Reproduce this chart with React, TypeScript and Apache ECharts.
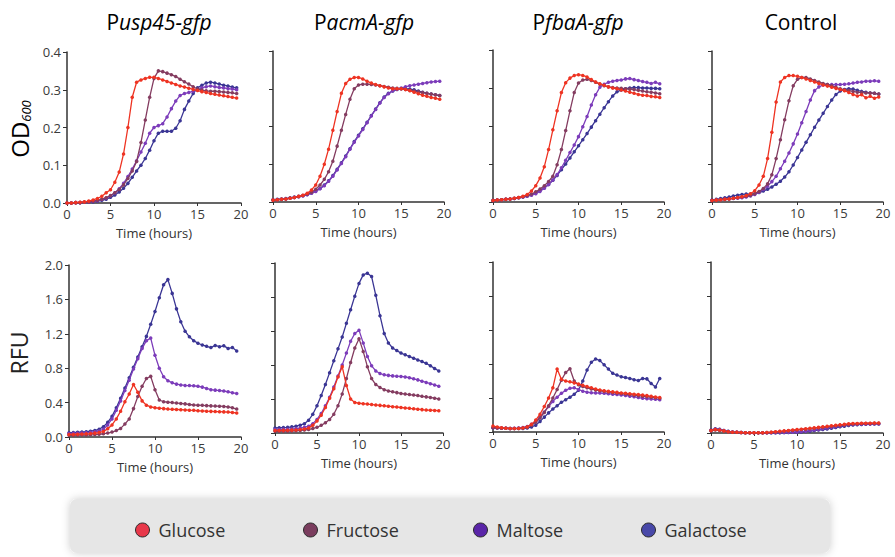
import React, { useEffect, useRef } from "react";
import * as echarts from "echarts";

const TIME = [0, 0.5, 1, 1.5, 2, 2.5, 3, 3.5, 4, 4.5, 5, 5.5, 6, 6.5, 7, 7.5, 8, 8.5, 9, 9.5, 10, 10.5, 11, 11.5, 12, 12.5, 13, 13.5, 14, 14.5, 15, 15.5, 16, 16.5, 17, 17.5, 18, 18.5, 19, 19.5];

const SUGARS = ["Glucose", "Fructose", "Maltose", "Galactose"];
const SUGAR_COLORS = ["#ee3322", "#843c60", "#7c3cba", "#3a3594"];
const LEGEND_COLORS = ["#e8384a", "#7a3d5e", "#5a25a8", "#4848a8"];
const PANEL_TITLES = [["P", "usp45-gfp"], ["P", "acmA-gfp"], ["P", "fbaA-gfp"], ["Control", ""]];
const OD_TICKS = [0, 0.1, 0.2, 0.3, 0.4];
const RFU_TICKS = [0, 0.4, 0.8, 1.2, 1.6, 2.0];
const X_TICKS = [0, 5, 10, 15, 20];

// ---- OD600, Pusp45-gfp
const odUsp45Glucose = [0.000,0.000,0.001,0.002,0.003,0.005,0.008,0.012,0.018,0.027, 0.035,0.055,0.082,0.130,0.200,0.280,0.320,0.326,0.330,0.333, 0.333,0.330,0.326,0.322,0.318,0.314,0.310,0.307,0.304,0.301, 0.298,0.295,0.293,0.290,0.288,0.286,0.284,0.282,0.280,0.278];
const odUsp45Fructose = [0.000,0.000,0.001,0.001,0.002,0.003,0.005,0.007,0.010,0.014, 0.020,0.027,0.036,0.048,0.065,0.085,0.110,0.160,0.220,0.280, 0.330,0.350,0.348,0.344,0.340,0.335,0.328,0.321,0.315,0.308, 0.302,0.299,0.297,0.296,0.296,0.295,0.294,0.293,0.292,0.290];
const odUsp45Maltose = [0.000,0.000,0.001,0.001,0.002,0.003,0.004,0.006,0.009,0.013, 0.019,0.027,0.038,0.052,0.070,0.090,0.112,0.135,0.158,0.185, 0.200,0.205,0.210,0.228,0.250,0.270,0.285,0.290,0.293,0.296, 0.300,0.305,0.308,0.310,0.308,0.306,0.305,0.303,0.302,0.300];
const odUsp45Galactose = [0.000,0.000,0.001,0.001,0.002,0.002,0.003,0.005,0.007,0.010, 0.015,0.021,0.029,0.039,0.052,0.068,0.085,0.100,0.118,0.140, 0.165,0.185,0.190,0.190,0.190,0.198,0.218,0.248,0.270,0.290, 0.305,0.312,0.318,0.320,0.318,0.315,0.312,0.310,0.307,0.305];

// ---- OD600, PacmA-gfp
const odAcmAGlucose = [0.005,0.006,0.007,0.008,0.010,0.012,0.015,0.018,0.023,0.032, 0.045,0.068,0.100,0.140,0.190,0.240,0.288,0.314,0.325,0.330, 0.330,0.326,0.320,0.315,0.311,0.308,0.305,0.302,0.300,0.300, 0.300,0.298,0.295,0.291,0.287,0.283,0.280,0.277,0.275,0.272];
const odAcmAFructose = [0.005,0.006,0.007,0.008,0.010,0.012,0.014,0.017,0.021,0.026, 0.034,0.045,0.060,0.080,0.108,0.148,0.190,0.232,0.272,0.300, 0.310,0.312,0.312,0.311,0.310,0.308,0.306,0.304,0.302,0.301, 0.300,0.298,0.296,0.294,0.292,0.290,0.288,0.286,0.284,0.282];
const odAcmAMaltose = [0.005,0.006,0.007,0.008,0.010,0.012,0.014,0.016,0.019,0.023, 0.028,0.035,0.043,0.055,0.068,0.085,0.102,0.120,0.140,0.158, 0.175,0.192,0.210,0.228,0.245,0.262,0.277,0.287,0.295,0.299, 0.302,0.305,0.308,0.310,0.312,0.314,0.316,0.318,0.319,0.320];
const odAcmAGalactose = [0.006,0.007,0.008,0.009,0.011,0.013,0.015,0.017,0.020,0.024, 0.029,0.036,0.045,0.056,0.070,0.087,0.104,0.122,0.141,0.160, 0.177,0.194,0.211,0.229,0.246,0.263,0.278,0.288,0.294,0.298, 0.300,0.300,0.299,0.297,0.294,0.291,0.288,0.286,0.284,0.282];

// ---- OD600, PfbaA-gfp
const odFbaAGlucose = [0.004,0.005,0.006,0.007,0.008,0.010,0.012,0.015,0.020,0.029, 0.043,0.063,0.093,0.138,0.190,0.240,0.288,0.314,0.326,0.333, 0.335,0.333,0.329,0.322,0.316,0.311,0.307,0.303,0.300,0.298, 0.295,0.292,0.289,0.286,0.283,0.281,0.280,0.278,0.277,0.275];
const odFbaAFructose = [0.004,0.005,0.006,0.007,0.008,0.010,0.012,0.014,0.017,0.021, 0.027,0.034,0.043,0.054,0.068,0.098,0.138,0.188,0.240,0.288, 0.313,0.321,0.323,0.320,0.315,0.310,0.306,0.303,0.301,0.300, 0.299,0.298,0.297,0.296,0.294,0.292,0.290,0.289,0.287,0.285];
const odFbaAMaltose = [0.004,0.005,0.006,0.007,0.008,0.009,0.011,0.013,0.015,0.018, 0.022,0.028,0.036,0.046,0.058,0.072,0.090,0.110,0.130,0.150, 0.172,0.198,0.225,0.255,0.282,0.302,0.310,0.315,0.318,0.320, 0.321,0.324,0.325,0.322,0.320,0.317,0.315,0.312,0.315,0.311];
const odFbaAGalactose = [0.004,0.005,0.006,0.007,0.008,0.009,0.011,0.013,0.016,0.019, 0.024,0.030,0.037,0.046,0.057,0.070,0.085,0.100,0.116,0.132, 0.148,0.164,0.180,0.197,0.214,0.231,0.248,0.264,0.279,0.290, 0.295,0.298,0.300,0.301,0.301,0.300,0.300,0.299,0.299,0.298];

// ---- OD600, Control
const odControlGlucose = [0.004,0.005,0.006,0.007,0.008,0.010,0.012,0.014,0.017,0.022, 0.030,0.045,0.068,0.115,0.185,0.265,0.318,0.330,0.335,0.335, 0.333,0.330,0.326,0.322,0.318,0.314,0.310,0.307,0.304,0.301, 0.298,0.295,0.290,0.285,0.281,0.284,0.276,0.280,0.275,0.278];
const odControlFructose = [0.004,0.005,0.006,0.007,0.008,0.010,0.012,0.013,0.015,0.018, 0.022,0.028,0.036,0.048,0.072,0.115,0.165,0.218,0.268,0.308, 0.325,0.330,0.330,0.326,0.322,0.318,0.314,0.311,0.308,0.304, 0.300,0.297,0.295,0.293,0.291,0.290,0.289,0.289,0.288,0.286];
const odControlMaltose = [0.004,0.005,0.006,0.007,0.008,0.009,0.010,0.011,0.013,0.016, 0.020,0.026,0.033,0.042,0.054,0.068,0.088,0.108,0.130,0.154, 0.180,0.210,0.240,0.270,0.295,0.305,0.310,0.311,0.311,0.311, 0.311,0.312,0.313,0.315,0.317,0.318,0.320,0.320,0.321,0.320];
const odControlGalactose = [0.005,0.007,0.009,0.011,0.013,0.016,0.018,0.020,0.021,0.021, 0.022,0.025,0.029,0.034,0.040,0.047,0.055,0.066,0.080,0.098, 0.118,0.138,0.158,0.178,0.198,0.217,0.235,0.253,0.270,0.285, 0.294,0.298,0.300,0.299,0.296,0.293,0.291,0.289,0.288,0.286];

// ---- RFU, Pusp45-gfp
const rfuUsp45Glucose = [0.030,0.030,0.032,0.034,0.037,0.040,0.045,0.052,0.065,0.095, 0.140,0.210,0.300,0.410,0.500,0.610,0.520,0.420,0.370,0.350, 0.340,0.335,0.330,0.325,0.322,0.320,0.318,0.315,0.312,0.310, 0.305,0.303,0.300,0.298,0.296,0.294,0.292,0.290,0.285,0.280];
const rfuUsp45Fructose = [0.020,0.020,0.021,0.022,0.023,0.025,0.028,0.032,0.038,0.046, 0.058,0.075,0.100,0.150,0.210,0.330,0.470,0.590,0.680,0.705, 0.550,0.430,0.410,0.405,0.400,0.395,0.390,0.385,0.378,0.372, 0.370,0.368,0.365,0.362,0.360,0.358,0.355,0.350,0.340,0.325];
const rfuUsp45Maltose = [0.040,0.042,0.044,0.046,0.050,0.054,0.060,0.070,0.090,0.140, 0.210,0.310,0.420,0.540,0.660,0.790,0.910,1.030,1.120,1.150, 0.950,0.800,0.700,0.655,0.630,0.615,0.605,0.600,0.598,0.595, 0.590,0.580,0.565,0.550,0.545,0.540,0.535,0.525,0.515,0.505];
const rfuUsp45Galactose = [0.050,0.052,0.055,0.058,0.062,0.068,0.076,0.090,0.120,0.170, 0.240,0.340,0.450,0.570,0.690,0.810,0.930,1.050,1.170,1.310, 1.460,1.620,1.770,1.830,1.670,1.490,1.340,1.230,1.165,1.120, 1.090,1.070,1.055,1.040,1.065,1.050,1.060,1.030,1.040,1.000];

// ---- RFU, PacmA-gfp
const rfuAcmAGlucose = [0.030,0.030,0.031,0.032,0.034,0.036,0.040,0.047,0.060,0.090, 0.140,0.210,0.300,0.410,0.520,0.660,0.780,0.560,0.400,0.360, 0.350,0.345,0.340,0.335,0.330,0.325,0.320,0.315,0.310,0.305, 0.300,0.295,0.290,0.285,0.280,0.275,0.270,0.268,0.265,0.262];
const rfuAcmAFructose = [0.020,0.020,0.021,0.022,0.024,0.027,0.030,0.035,0.042,0.052, 0.068,0.090,0.120,0.160,0.220,0.320,0.460,0.640,0.830,1.000, 1.110,0.960,0.780,0.640,0.570,0.535,0.510,0.495,0.485,0.475, 0.465,0.458,0.452,0.446,0.440,0.432,0.425,0.418,0.410,0.400];
const rfuAcmAMaltose = [0.040,0.041,0.043,0.045,0.048,0.052,0.058,0.066,0.080,0.110, 0.160,0.230,0.320,0.420,0.540,0.670,0.800,0.940,1.080,1.170, 1.210,1.060,0.900,0.790,0.730,0.700,0.685,0.678,0.672,0.668, 0.665,0.660,0.650,0.638,0.625,0.610,0.595,0.580,0.565,0.550];
const rfuAcmAGalactose = [0.060,0.062,0.064,0.067,0.072,0.080,0.092,0.110,0.150,0.220, 0.320,0.440,0.570,0.710,0.850,0.990,1.130,1.290,1.450,1.610, 1.760,1.860,1.880,1.840,1.620,1.380,1.170,1.060,1.000,0.970, 0.940,0.920,0.900,0.880,0.860,0.840,0.820,0.790,0.760,0.730];

// ---- RFU, PfbaA-gfp
const rfuFbaAGlucose = [0.070,0.060,0.050,0.045,0.040,0.040,0.042,0.046,0.060,0.090, 0.140,0.210,0.300,0.400,0.520,0.740,0.620,0.600,0.590,0.578, 0.565,0.550,0.535,0.520,0.505,0.495,0.485,0.478,0.472,0.466, 0.460,0.455,0.450,0.445,0.440,0.435,0.428,0.420,0.412,0.405];
const rfuFbaAFructose = [0.050,0.048,0.045,0.043,0.042,0.042,0.044,0.048,0.060,0.080, 0.115,0.165,0.230,0.310,0.400,0.500,0.610,0.700,0.745,0.600, 0.555,0.535,0.520,0.505,0.495,0.485,0.478,0.470,0.465,0.458, 0.452,0.446,0.440,0.434,0.428,0.422,0.416,0.410,0.404,0.398];
const rfuFbaAMaltose = [0.050,0.048,0.045,0.043,0.042,0.043,0.046,0.052,0.065,0.090, 0.125,0.175,0.235,0.300,0.360,0.410,0.455,0.490,0.515,0.520, 0.500,0.480,0.468,0.462,0.460,0.458,0.455,0.450,0.445,0.440, 0.436,0.430,0.422,0.415,0.405,0.398,0.392,0.388,0.385,0.380];
const rfuFbaAGalactose = [0.050,0.050,0.048,0.045,0.040,0.040,0.040,0.042,0.046,0.060, 0.080,0.125,0.175,0.225,0.270,0.310,0.350,0.380,0.410,0.445, 0.490,0.600,0.730,0.820,0.860,0.840,0.790,0.740,0.690,0.670, 0.650,0.640,0.630,0.615,0.605,0.630,0.625,0.570,0.530,0.630];

// ---- RFU, Control
const rfuControlGlucose = [0.030,0.040,0.035,0.025,0.015,0.010,0.008,0.005,0.004,0.003, 0.003,0.003,0.004,0.006,0.010,0.015,0.020,0.025,0.030,0.035, 0.040,0.045,0.050,0.055,0.060,0.066,0.072,0.078,0.084,0.090, 0.096,0.102,0.108,0.112,0.112,0.114,0.115,0.115,0.116,0.116];
const rfuControlFructose = [0.025,0.035,0.030,0.022,0.014,0.010,0.008,0.005,0.004,0.003, 0.003,0.003,0.003,0.005,0.008,0.012,0.016,0.020,0.025,0.030, 0.035,0.040,0.045,0.050,0.055,0.060,0.066,0.072,0.078,0.084, 0.090,0.095,0.100,0.105,0.107,0.110,0.112,0.112,0.113,0.113];
const rfuControlMaltose = [0.030,0.045,0.040,0.028,0.018,0.012,0.008,0.006,0.004,0.003, 0.003,0.003,0.003,0.003,0.003,0.004,0.005,0.006,0.008,0.010, 0.013,0.017,0.022,0.028,0.035,0.042,0.050,0.058,0.066,0.074, 0.082,0.090,0.096,0.100,0.102,0.104,0.105,0.106,0.107,0.108];
const rfuControlGalactose = [0.035,0.050,0.045,0.030,0.020,0.012,0.008,0.006,0.004,0.003, 0.003,0.003,0.003,0.003,0.003,0.003,0.004,0.005,0.006,0.008, 0.010,0.013,0.017,0.022,0.028,0.034,0.041,0.048,0.056,0.064, 0.072,0.080,0.088,0.094,0.098,0.100,0.102,0.104,0.105,0.106];

const PANEL_DATA = [
  [odUsp45Glucose, odUsp45Fructose, odUsp45Maltose, odUsp45Galactose],
  [odAcmAGlucose, odAcmAFructose, odAcmAMaltose, odAcmAGalactose],
  [odFbaAGlucose, odFbaAFructose, odFbaAMaltose, odFbaAGalactose],
  [odControlGlucose, odControlFructose, odControlMaltose, odControlGalactose],
  [rfuUsp45Glucose, rfuUsp45Fructose, rfuUsp45Maltose, rfuUsp45Galactose],
  [rfuAcmAGlucose, rfuAcmAFructose, rfuAcmAMaltose, rfuAcmAGalactose],
  [rfuFbaAGlucose, rfuFbaAFructose, rfuFbaAMaltose, rfuFbaAGalactose],
  [rfuControlGlucose, rfuControlFructose, rfuControlMaltose, rfuControlGalactose],
];

const GRIDS = [
  { left: 67, top: 52, width: 174, height: 151 },
  { left: 273, top: 51, width: 171, height: 151 },
  { left: 493, top: 50, width: 171, height: 152 },
  { left: 712, top: 51, width: 171, height: 151 },
  { left: 69, top: 265, width: 172, height: 172 },
  { left: 275, top: 263, width: 168, height: 170 },
  { left: 493, top: 262, width: 171, height: 170 },
  { left: 711, top: 262, width: 172, height: 171 },
];
const TITLE_X = [159, 364, 578, 801];
const LEGEND_LEFT = [130, 298, 468, 636];

const FONT = "'Open Sans', 'Noto Sans', sans-serif";

export default function App() {
  const ref = useRef<HTMLDivElement>(null);
  useEffect(() => {
    if (!ref.current) return;
    const chart = echarts.init(ref.current, undefined, { renderer: "svg" });
    const axisLine = { show: true, lineStyle: { color: "#333", width: 1.5 } };
    const xAxis = GRIDS.map((_, i) => ({
      type: "value",
      gridIndex: i,
      min: X_TICKS[0],
      max: X_TICKS[X_TICKS.length - 1],
      interval: 5,
      axisLine,
      axisTick: { show: true, length: 3, lineStyle: { color: "#333" } },
      axisLabel: { margin: 4, fontSize: 13, color: "#3a3a3a", fontFamily: FONT },
      splitLine: { show: false },
      name: "Time (hours)",
      nameLocation: "middle",
      nameGap: 23,
      nameTextStyle: { fontSize: 13, color: "#333", fontFamily: FONT },
    }));
    const yAxis = GRIDS.map((_, i) => {
      const top = i < 4;
      const ticks = top ? OD_TICKS : RFU_TICKS;
      return {
        type: "value",
        gridIndex: i,
        min: ticks[0],
        max: ticks[ticks.length - 1],
        interval: top ? 0.1 : 0.4,
        axisLine,
        axisTick: { show: true, length: 4, lineStyle: { color: "#333" } },
        axisLabel: {
          show: i % 4 === 0,
          margin: 6,
          fontSize: 13,
          color: "#3a3a3a",
          fontFamily: FONT,
          formatter: (v: number) => v.toFixed(1),
        },
        splitLine: { show: false },
      };
    });
    const series: any[] = [];
    PANEL_DATA.forEach((panel, p) => {
      for (let s = SUGARS.length - 1; s >= 0; s--) {
        series.push({
          type: "line",
          name: SUGARS[s],
          xAxisIndex: p,
          yAxisIndex: p,
          data: TIME.map((t, k) => [t, panel[s][k]]),
          symbol: "circle",
          symbolSize: 3.5,
          showSymbol: true,
          lineStyle: { width: 1.3, color: SUGAR_COLORS[s] },
          itemStyle: { color: SUGAR_COLORS[s] },
          color: SUGAR_COLORS[s],
          z: 2 + (SUGARS.length - s),
          silent: true,
        });
      }
    });
    const legend = SUGARS.map((name, i) => ({
      data: [{ name, itemStyle: { color: LEGEND_COLORS[i], borderColor: "#2a2a2a", borderWidth: 1 } }],
      left: LEGEND_LEFT[i],
      top: 516,
      icon: "circle",
      itemWidth: 14,
      itemHeight: 14,
      selectedMode: false,
      z: 10,
      textStyle: { fontSize: 18, color: "#333", fontFamily: FONT, padding: [0, 0, 0, 4] },
    }));
    const graphic: any[] = [
      {
        type: "rect",
        shape: { x: 70, y: 499, width: 760, height: 54, r: 7 },
        style: { fill: "#e6e6e6", shadowBlur: 8, shadowColor: "rgba(0,0,0,0.2)" },
        z: 0,
      },
      ...PANEL_TITLES.map((t, i) => ({
        type: "text",
        x: TITLE_X[i],
        y: 22,
        style: {
          text: t[1] ? `{n|${t[0]}}{i|${t[1]}}` : `{n|${t[0]}}`,
          align: "center",
          verticalAlign: "middle",
          rich: {
            n: { fontSize: 21, fontFamily: FONT, color: "#222" },
            i: { fontSize: 21, fontFamily: FONT, fontStyle: "italic", color: "#222" },
          },
        },
      })),
      {
        type: "text",
        x: 19,
        y: 129,
        rotation: Math.PI / 2,
        style: {
          text: "{a|OD}{b|600}",
          align: "center",
          verticalAlign: "middle",
          rich: {
            a: { fontSize: 24, fontFamily: FONT, color: "#222", lineHeight: 32, verticalAlign: "middle" },
            b: { fontSize: 13, fontFamily: FONT, fontStyle: "italic", color: "#222", lineHeight: 32, verticalAlign: "bottom", padding: [0, 0, 3, 0] },
          },
        },
      },
      {
        type: "text",
        x: 19,
        y: 353,
        rotation: Math.PI / 2,
        style: {
          text: "RFU",
          align: "center",
          verticalAlign: "middle",
          fontSize: 23,
          fontFamily: FONT,
          fill: "#222",
        },
      },
    ];
    chart.setOption({
      animation: false,
      backgroundColor: "#ffffff",
      grid: GRIDS.map((g) => ({ ...g, containLabel: false })),
      xAxis,
      yAxis,
      series,
      legend,
      graphic,
    });
    return () => chart.dispose();
  }, []);
  return <div ref={ref} style={{ position: "absolute", left: 0, top: 0, width: 895, height: 557 }} />;
}
